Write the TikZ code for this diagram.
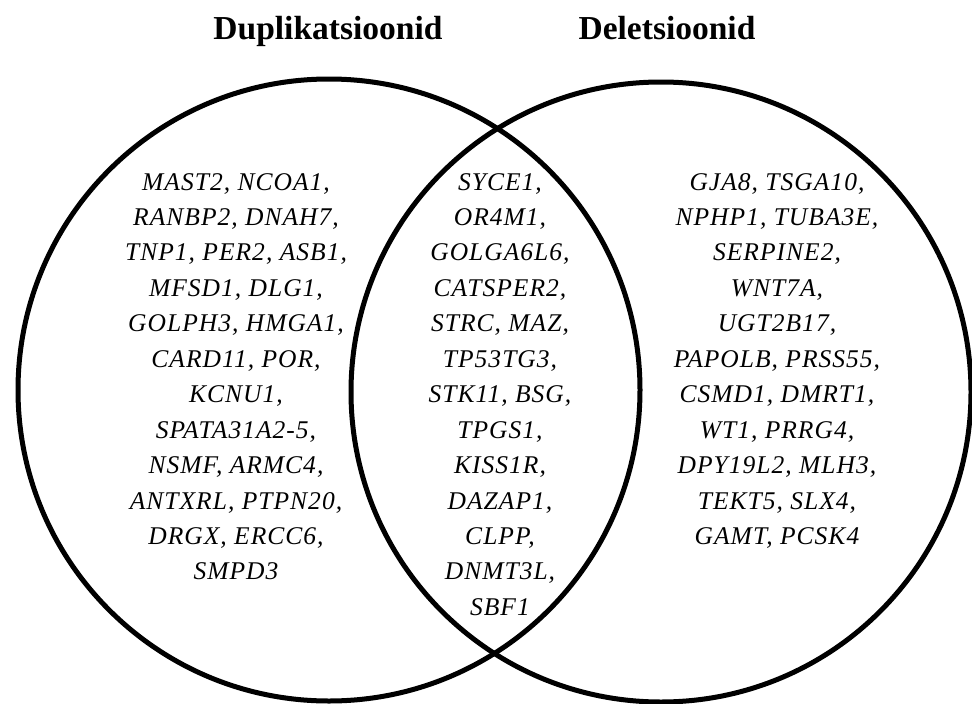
\documentclass[tikz,border=0pt]{standalone}
\usepackage{fontspec}
\setmainfont{Liberation Serif}
\newfontfamily\genefont[LetterSpace=4]{Liberation Serif}
\begin{document}
\begin{tikzpicture}[x=1pt,y=-1pt,
  ring/.style={line width=5pt, draw=black},
  head/.style={anchor=base, inner sep=0pt, font=\fontsize{33.5}{40}\selectfont\bfseries},
  gene/.style={anchor=base, inner sep=0pt, font=\fontsize{25.5}{30}\genefont\itshape}]
\useasboundingbox (0,0) rectangle (972,704);
\fill[white] (0,0) rectangle (972,704);
\draw[ring] (329,390) circle[radius=311pt];
\draw[ring] (661,392) circle[radius=310pt];
\node[head] (hL) at (328,39) {Duplikatsioonid};
\node[head] (hR) at (667,39) {Deletsioonid};
\foreach \t [count=\i from 0] in {{MAST2, NCOA1,},{RANBP2, DNAH7,},{TNP1, PER2, ASB1,},{MFSD1, DLG1,},{GOLPH3, HMGA1,},{CARD11, POR,},{KCNU1,},{SPATA31A2-5,},{NSMF, ARMC4,},{ANTXRL, PTPN20,},{DRGX, ERCC6,},{SMPD3}}
  \node[gene] (L\i) at (236,190+\i*35.45) {\t};
\foreach \t [count=\i from 0] in {{SYCE1,},{OR4M1,},{GOLGA6L6,},{CATSPER2,},{STRC, MAZ,},{TP53TG3,},{STK11, BSG,},{TPGS1,},{KISS1R,},{DAZAP1,},{CLPP,},{DNMT3L,},{SBF1}}
  \node[gene] (M\i) at (500,190+\i*35.45) {\t};
\foreach \t [count=\i from 0] in {{GJA8, TSGA10,},{NPHP1, TUBA3E,},{SERPINE2,},{WNT7A,},{UGT2B17,},{PAPOLB, PRSS55,},{CSMD1, DMRT1,},{WT1, PRRG4,},{DPY19L2, MLH3,},{TEKT5, SLX4,},{GAMT, PCSK4}}
  \node[gene] (R\i) at (777,190+\i*35.45) {\t};
\end{tikzpicture}
\end{document}
